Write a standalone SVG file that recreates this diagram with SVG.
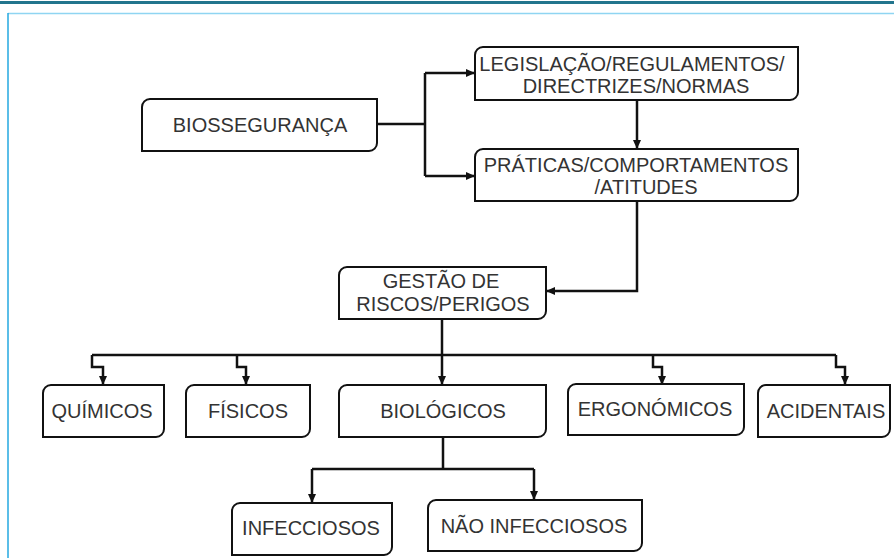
<svg xmlns="http://www.w3.org/2000/svg" width="894" height="558" viewBox="0 0 894 558">
<style>
.box{fill:#fff;stroke:#111;stroke-width:2}
.lbl{font-family:"Liberation Sans",Arial,sans-serif;font-size:20px;fill:#333;text-anchor:middle}
.con{fill:none;stroke:#111;stroke-width:2.5}
</style>
<defs>
<marker id="ah" markerUnits="userSpaceOnUse" markerWidth="9" markerHeight="8" refX="8" refY="4" orient="auto">
<path d="M0,0 L9,4 L0,8 z" fill="#111"/>
</marker>
</defs>
<rect x="0" y="0" width="894" height="558" fill="#fff"/>
<rect x="0" y="1" width="894" height="3" fill="#22758d"/>
<line x1="8" y1="13.5" x2="894" y2="13.5" stroke="#8fd5f2" stroke-width="1.5"/>
<line x1="8" y1="13" x2="8" y2="558" stroke="#25a8e0" stroke-width="1.5"/>

<g id="connectors">
<path class="con" d="M377,124 H425 M425,73 V176"/>
<path class="con" d="M425,73 H474" marker-end="url(#ah)"/>
<path class="con" d="M425,176 H474" marker-end="url(#ah)"/>
<path class="con" d="M637,100 V148" marker-end="url(#ah)"/>
<path class="con" d="M637,201 V291 H547" marker-end="url(#ah)"/>
<path class="con" d="M442,319 V384" marker-end="url(#ah)"/>
<path class="con" d="M92,355 H836"/>
<path class="con" d="M92,355 V367 H103 V384" marker-end="url(#ah)"/>
<path class="con" d="M237,355 V367 H246 V384" marker-end="url(#ah)"/>
<path class="con" d="M653,355 V367 H662 V384" marker-end="url(#ah)"/>
<path class="con" d="M836,355 V367 H845 V384" marker-end="url(#ah)"/>
<path class="con" d="M443,437 V469 M312,469 H534"/>
<path class="con" d="M312,469 V502" marker-end="url(#ah)"/>
<path class="con" d="M534,469 V499" marker-end="url(#ah)"/>
</g>

<g id="biosseguranca">
<path class="box" d="M150,99 H377 V143 A8,8 0 0 1 369,151 H142 V107 A8,8 0 0 1 150,99 Z"/>
<text class="lbl" x="260" y="132">BIOSSEGURANÇA</text>
</g>
<g id="legislacao">
<path class="box" d="M483,47 H798 V92 A8,8 0 0 1 790,100 H475 V55 A8,8 0 0 1 483,47 Z"/>
<text class="lbl" x="632" y="71">LEGISLAÇÃO/REGULAMENTOS/</text>
<text class="lbl" x="636" y="93">DIRECTRIZES/NORMAS</text>
</g>
<g id="praticas">
<path class="box" d="M483,149 H798 V193 A8,8 0 0 1 790,201 H475 V157 A8,8 0 0 1 483,149 Z"/>
<text class="lbl" x="636" y="172">PRÁTICAS/COMPORTAMENTOS</text>
<text class="lbl" x="646" y="194">/ATITUDES</text>
</g>
<g id="gestao">
<path class="box" d="M347,267 H546 V311 A8,8 0 0 1 538,319 H339 V275 A8,8 0 0 1 347,267 Z"/>
<text class="lbl" x="441" y="288">GESTÃO DE</text>
<text class="lbl" x="443" y="311">RISCOS/PERIGOS</text>
</g>
<g id="quimicos">
<path class="box" d="M51,385 H164 V429 A8,8 0 0 1 156,437 H43 V393 A8,8 0 0 1 51,385 Z"/>
<text class="lbl" x="102" y="418">QUÍMICOS</text>
</g>
<g id="fisicos">
<path class="box" d="M194,385 H310 V429 A8,8 0 0 1 302,437 H186 V393 A8,8 0 0 1 194,385 Z"/>
<text class="lbl" x="248" y="418">FÍSICOS</text>
</g>
<g id="biologicos">
<path class="box" d="M347,385 H546 V429 A8,8 0 0 1 538,437 H339 V393 A8,8 0 0 1 347,385 Z"/>
<text class="lbl" x="443" y="418">BIOLÓGICOS</text>
</g>
<g id="ergonomicos">
<path class="box" d="M576,384 H744 V427 A8,8 0 0 1 736,435 H568 V392 A8,8 0 0 1 576,384 Z"/>
<text class="lbl" x="655" y="416">ERGONÓMICOS</text>
</g>
<g id="acidentais">
<path class="box" d="M766,385 H890 V429 A8,8 0 0 1 882,437 H758 V393 A8,8 0 0 1 766,385 Z"/>
<text class="lbl" x="826" y="418">ACIDENTAIS</text>
</g>
<g id="infecciosos">
<path class="box" d="M240,503 H392 V547 A8,8 0 0 1 384,555 H232 V511 A8,8 0 0 1 240,503 Z"/>
<text class="lbl" x="311" y="535">INFECCIOSOS</text>
</g>
<g id="nao-infecciosos">
<path class="box" d="M436,500 H642 V543 A8,8 0 0 1 634,551 H428 V508 A8,8 0 0 1 436,500 Z"/>
<text class="lbl" x="534" y="533">NÃO INFECCIOSOS</text>
</g>
</svg>
